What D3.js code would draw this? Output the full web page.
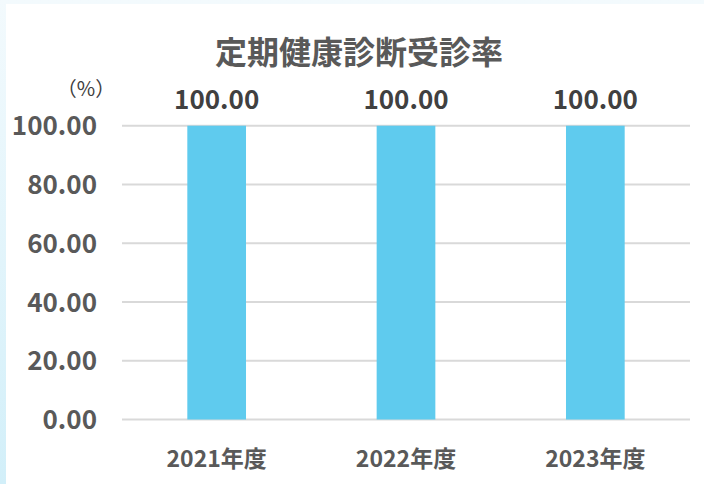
<!DOCTYPE html>
<html>
<head>
<meta charset="UTF-8">
<style>
  html, body { margin: 0; padding: 0; }
  body {
    width: 704px;
    height: 484px;
    overflow: hidden;
    background: linear-gradient(to bottom, #f3fafd, #d2eff9);
  }
  #panel {
    position: absolute;
    left: 6px;
    top: 4px;
    width: 698px;
    height: 480px;
    background: #fff;
  }
  svg { position: absolute; left: 0; top: 0; }
  text { font-family: "Noto Sans CJK JP", "Noto Sans", sans-serif; }
</style>
</head>
<body>
<div id="panel"></div>
<script src="https://d3js.org/d3.v7.min.js"></script>
<script>
// data
const title = "定期健康診断受診率";
const unitLabel = "（%）";
const years = ["2021年度", "2022年度", "2023年度"];
const rates = [100, 100, 100];
const yTicks = [0, 20, 40, 60, 80, 100];

const W = 704, H = 484;
const svg = d3.select("body").append("svg")
  .attr("width", W)
  .attr("height", H);

const x = d3.scaleBand()
  .domain(years)
  .range([122, 690])
  .paddingInner(0.69)
  .paddingOuter(0.345);

const y = d3.scaleLinear()
  .domain([0, 100])
  .range([419.5, 125.7]);

// gridlines
svg.append("g")
  .selectAll("line")
  .data(yTicks)
  .join("line")
  .attr("x1", 122)
  .attr("x2", 690)
  .attr("y1", d => y(d))
  .attr("y2", d => y(d))
  .attr("stroke", "#d9d9d9")
  .attr("stroke-width", 2);

// bars
svg.append("g")
  .selectAll("rect")
  .data(years)
  .join("rect")
  .attr("x", d => x(d))
  .attr("width", x.bandwidth())
  .attr("y", (d, i) => y(rates[i]))
  .attr("height", (d, i) => y(0) - y(rates[i]))
  .attr("fill", "#5fcbee");

// value labels
svg.append("g")
  .selectAll("text")
  .data(years)
  .join("text")
  .attr("x", d => x(d) + x.bandwidth() / 2)
  .attr("y", (d, i) => y(rates[i]) - 17)
  .attr("text-anchor", "middle")
  .attr("font-size", 26)
  .attr("font-weight", "bold")
  .attr("fill", "#404040")
  .text((d, i) => d3.format(".2f")(rates[i]));

// y axis labels
const yAxis = svg.append("g")
  .attr("transform", "translate(97,0)")
  .call(d3.axisLeft(y).tickValues(yTicks).tickFormat(d3.format(".2f")).tickSize(0).tickPadding(0));
yAxis.select(".domain").remove();
yAxis.selectAll("text")
  .attr("font-size", 26)
  .attr("font-weight", "bold")
  .attr("fill", "#595959")
  .attr("dy", "0.35em");

// x axis labels
const xAxis = svg.append("g")
  .attr("transform", "translate(0," + 467 + ")")
  .call(d3.axisBottom(x).tickSize(0).tickPadding(0));
xAxis.select(".domain").remove();
xAxis.selectAll("text")
  .attr("font-size", 23)
  .attr("font-weight", "bold")
  .attr("fill", "#595959")
  .attr("dy", 0);

// unit
svg.append("text")
  .attr("x", 86)
  .attr("y", 96)
  .attr("text-anchor", "middle")
  .attr("font-size", 20)
  .attr("fill", "#404040")
  .text(unitLabel);

// title
svg.append("text")
  .attr("x", 359)
  .attr("y", 64)
  .attr("text-anchor", "middle")
  .attr("font-size", 32)
  .attr("font-weight", "bold")
  .attr("fill", "#595959")
  .text(title);
</script>
</body>
</html>
